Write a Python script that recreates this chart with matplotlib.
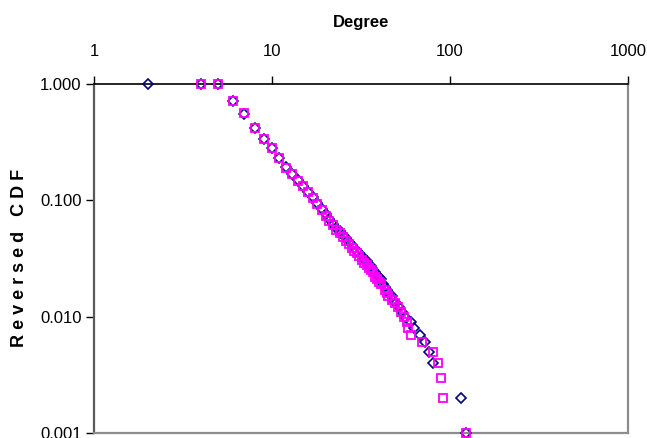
import numpy as np
import matplotlib
matplotlib.use("Agg")
import matplotlib.pyplot as plt
from matplotlib.ticker import FixedLocator, FuncFormatter, NullLocator

plt.rcParams['font.family'] = ['Liberation Sans', 'DejaVu Sans']

# Series 1 (diamonds)
deg_a = [2, 4, 5, 6, 7, 8, 9, 10, 11, 12, 13, 14, 15, 16, 17, 18, 19, 20,
         21, 22, 23, 24, 25, 26, 27, 28, 29, 30, 31, 32, 33, 34, 35, 36, 37,
         38, 39, 40, 41, 42, 43, 44, 45, 47, 48, 50, 52, 54, 56, 60, 63, 68,
         72, 76, 80, 115, 123]
cdf_a = [1.0, 0.998, 0.995, 0.71, 0.55, 0.42, 0.34, 0.28, 0.23, 0.193, 0.168,
         0.150, 0.134, 0.119, 0.106, 0.095, 0.085, 0.076, 0.069, 0.063, 0.058,
         0.054, 0.050, 0.047, 0.044, 0.041, 0.039, 0.037, 0.035, 0.033, 0.031,
         0.030, 0.028, 0.027, 0.025, 0.024, 0.023, 0.022, 0.021, 0.019, 0.018,
         0.017, 0.016, 0.015, 0.014, 0.013, 0.012, 0.011, 0.010, 0.009, 0.008,
         0.007, 0.006, 0.005, 0.004, 0.002, 0.001]

# Series 2 (squares)
deg_b = [4, 5, 6, 7, 8, 9, 10, 11, 12, 13, 14, 15, 16, 17, 18, 19, 20, 21, 22,
         23, 24, 25, 26, 27, 28, 29, 30, 31, 32, 33, 34, 35, 36, 37, 38, 39,
         40, 41, 43, 44, 45, 47, 49, 51, 53, 55, 57, 58, 60, 70, 80, 86, 89,
         91, 123]
cdf_b = [0.998, 0.995, 0.71, 0.56, 0.42, 0.34, 0.28, 0.23, 0.19, 0.167, 0.148,
         0.132, 0.117, 0.104, 0.093, 0.083, 0.074, 0.067, 0.061, 0.056, 0.052,
         0.048, 0.045, 0.042, 0.039, 0.037, 0.035, 0.033, 0.031, 0.029, 0.028,
         0.026, 0.025, 0.024, 0.022, 0.021, 0.020, 0.019, 0.017, 0.016, 0.015,
         0.014, 0.013, 0.012, 0.011, 0.010, 0.009, 0.008, 0.007, 0.006, 0.005,
         0.004, 0.003, 0.002, 0.001]

x_ticks = [1, 10, 100, 1000]
y_ticks = [0.001, 0.01, 0.1, 1.0]

fig = plt.figure(figsize=(6.47, 4.38), dpi=100)
ax = fig.add_axes([0.1453, 0.0114, 0.8253, 0.7968])

ax.plot(deg_a, cdf_a, linestyle='none', marker='D', markersize=5,
        markerfacecolor='none', markeredgecolor='#000080', markeredgewidth=1.2,
        clip_on=False, zorder=3)
ax.plot(deg_b, cdf_b, linestyle='none', marker='s', markersize=6,
        markerfacecolor='none', markeredgecolor='#ff00ff', markeredgewidth=1.3,
        clip_on=False, zorder=4)

ax.set_xscale('log')
ax.set_yscale('log')
ax.set_xlim(1, 1000)
ax.set_ylim(0.001, 1.0)

ax.xaxis.set_major_locator(FixedLocator(x_ticks))
ax.xaxis.set_minor_locator(NullLocator())
ax.xaxis.set_major_formatter(FuncFormatter(lambda v, p: '%d' % round(v)))
ax.yaxis.set_major_locator(FixedLocator(y_ticks))
ax.yaxis.set_minor_locator(NullLocator())
ax.yaxis.set_major_formatter(FuncFormatter(lambda v, p: '%.3f' % v))

ax.xaxis.tick_top()
ax.xaxis.set_label_position('top')
ax.tick_params(axis='x', direction='out', length=6, width=1, pad=12,
               labelsize=12, color='black')
ax.tick_params(axis='y', direction='out', length=6, width=1, pad=3,
               labelsize=12, color='black')

ax.spines['top'].set_color('black')
ax.spines['top'].set_linewidth(1.2)
ax.spines['left'].set_color('#5a5a5a')
ax.spines['left'].set_linewidth(1.6)
ax.spines['right'].set_color('#8c8c8c')
ax.spines['right'].set_linewidth(1.6)
ax.spines['bottom'].set_color('#8c8c8c')
ax.spines['bottom'].set_linewidth(1.6)

ax.set_xlabel('Degree', fontsize=12, fontweight='bold', labelpad=12)
fig.text(0.030, 0.41, 'R e v e r s e d   C D F', rotation=90, fontsize=13,
         fontweight='bold', ha='center', va='center')

fig.savefig('out.png', dpi=100)
